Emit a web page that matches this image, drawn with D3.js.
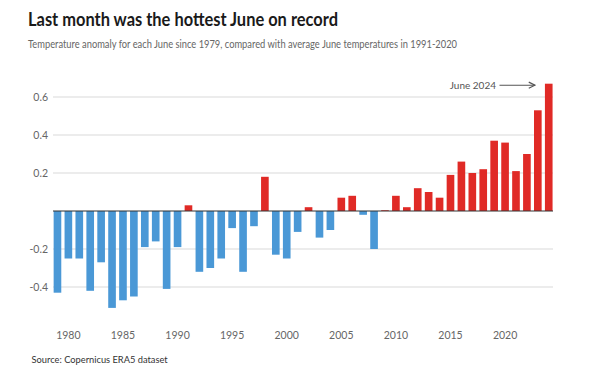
<!DOCTYPE html>
<html>
<head>
<meta charset="utf-8">
<script src="https://cdn.jsdelivr.net/npm/d3@7"></script>
<style>
  html, body { margin: 0; padding: 0; background: #fff; }
  svg { display: block; font-family: Lato, "Open Sans", sans-serif; }
</style>
</head>
<body>
<svg id="chart" width="600" height="370"></svg>
<script>
const years = d3.range(1979, 2025);
const anomalies = [
  -0.43, -0.25, -0.25, -0.42, -0.27, -0.51, -0.47, -0.45, -0.19, -0.16,
  -0.41, -0.19, 0.03, -0.32, -0.30, -0.25, -0.09, -0.32, -0.08, 0.18,
  -0.23, -0.25, -0.11, 0.02, -0.14, -0.10, 0.07, 0.08, -0.02, -0.20,
  0.004, 0.08, 0.02, 0.12, 0.10, 0.07, 0.19, 0.26, 0.20, 0.22,
  0.37, 0.36, 0.21, 0.30, 0.53, 0.67
];
const yTicks = [-0.4, -0.2, 0.2, 0.4, 0.6];
const xTicks = [1980, 1985, 1990, 1995, 2000, 2005, 2010, 2015, 2020];

const svg = d3.select("#chart");
const data = years.map((year, i) => ({ year, value: anomalies[i] }));

const x = d3.scaleBand().domain(years).range([52, 554.2]).paddingInner(0.3).paddingOuter(0.15);
const y = d3.scaleLinear().domain([-0.6, 0.7]).range([325, 78]);

// squeeze a text to a given width (the original face is narrower)
function fit(sel, width) {
  if (sel.node().getComputedTextLength() > width) {
    sel.attr("textLength", width).attr("lengthAdjust", "spacingAndGlyphs");
  }
  return sel;
}

fit(svg.append("text").attr("x", 28).attr("y", 25.5)
  .attr("font-size", 18.5).attr("font-weight", 700).attr("fill", "#1a1a1a")
  .text("Last month was the hottest June on record"), 310);
fit(svg.append("text").attr("x", 28).attr("y", 48)
  .attr("font-size", 12).attr("fill", "#666")
  .text("Temperature anomaly for each June since 1979, compared with average June temperatures in 1991-2020"), 429);

// gridlines and y labels
const grid = svg.append("g");
grid.selectAll("line").data(yTicks).join("line")
  .attr("x1", 53).attr("x2", 553)
  .attr("y1", (d) => y(d)).attr("y2", (d) => y(d))
  .attr("stroke", "#d9d9d9").attr("stroke-width", 1);
grid.selectAll("text").data(yTicks).join("text")
  .attr("x", 48).attr("y", (d) => y(d)).attr("dy", "0.35em")
  .attr("text-anchor", "end").attr("font-size", 10.5).attr("fill", "#666")
  .text((d) => d3.format(".1f")(d).replace("−", "-"));

svg.append("g").selectAll("rect").data(data).join("rect")
  .attr("x", (d) => x(d.year))
  .attr("width", x.bandwidth())
  .attr("y", (d) => y(Math.max(0, d.value)))
  .attr("height", (d) => Math.abs(y(d.value) - y(0)))
  .attr("fill", (d) => d.value >= 0 ? "#e02a26" : "#4a98d6");

svg.append("line").attr("x1", 53).attr("x2", 553)
  .attr("y1", y(0)).attr("y2", y(0))
  .attr("stroke", "#333").attr("stroke-width", 1.2);

// x labels
svg.append("g").selectAll("text").data(xTicks).join("text")
  .attr("x", (d) => x(d) + x.bandwidth() / 2).attr("y", 335).attr("dy", "0.35em")
  .attr("text-anchor", "middle").attr("font-size", 10.5).attr("fill", "#666")
  .text((d) => d);

// annotation
const last = data[data.length - 1];
const ay = y(last.value) + 1.5;
svg.append("defs").append("marker").attr("id", "arrow")
  .attr("viewBox", "0 0 10 10").attr("refX", 9).attr("refY", 5)
  .attr("markerWidth", 7).attr("markerHeight", 7).attr("orient", "auto")
  .append("path").attr("d", "M1,1 L9,5 L1,9").attr("fill", "none").attr("stroke", "#555").attr("stroke-width", 1.5);
svg.append("text").attr("x", 496).attr("y", ay).attr("dy", "0.35em")
  .attr("text-anchor", "end").attr("font-size", 10).attr("fill", "#555")
  .text("June 2024");
svg.append("line").attr("x1", 499.5).attr("x2", x(last.year) - 10)
  .attr("y1", ay).attr("y2", ay)
  .attr("stroke", "#555").attr("stroke-width", 1.1).attr("marker-end", "url(#arrow)");

svg.append("text").attr("x", 31.5).attr("y", 363)
  .attr("font-size", 9.3).attr("fill", "#333")
  .text("Source: Copernicus ERA5 dataset");
</script>
</body>
</html>
